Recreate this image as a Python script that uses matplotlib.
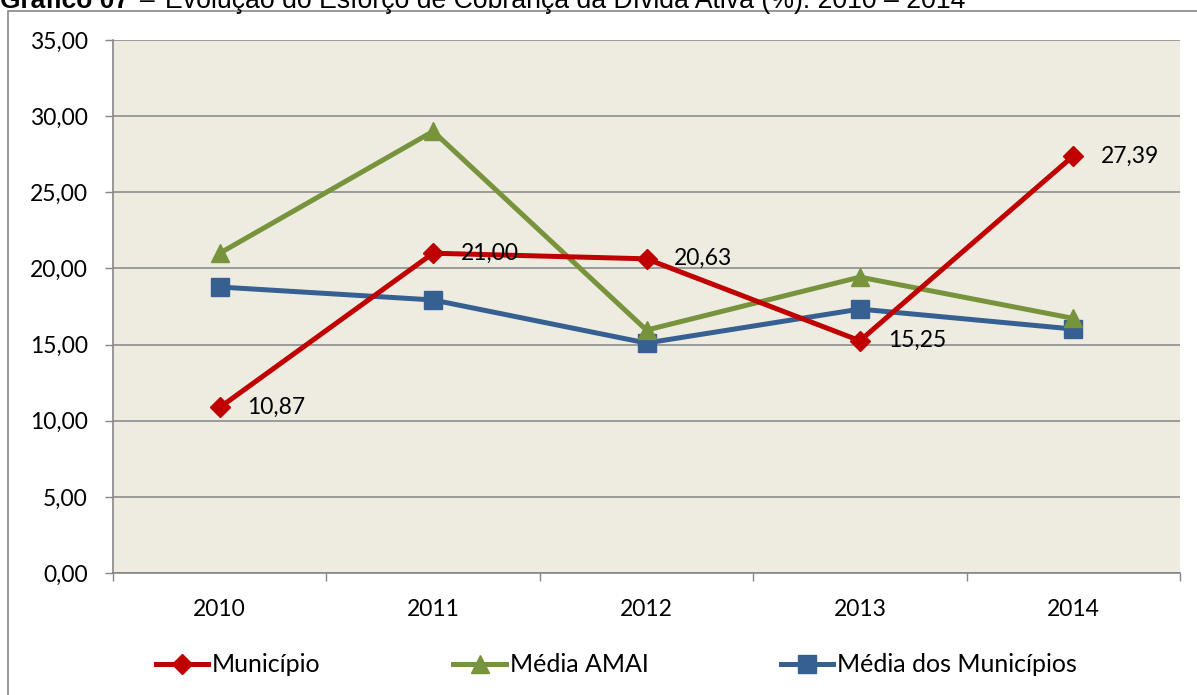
import matplotlib
matplotlib.use("Agg")
import matplotlib.pyplot as plt
from matplotlib.patches import Rectangle

years = ["2010", "2011", "2012", "2013", "2014"]
municipio = [10.87, 21.00, 20.63, 15.25, 27.39]
media_amai = [21.0, 29.0, 15.95, 19.43, 16.72]
media_municipios = [18.78, 17.93, 15.1, 17.33, 16.02]
yticks = [0, 5, 10, 15, 20, 25, 30, 35]

plt.rcParams['font.family'] = ['Lato', 'DejaVu Sans']

W, H = 1197, 695
fig = plt.figure(figsize=(W / 100, H / 100), dpi=100)
fig.patch.set_facecolor('white')

# outer chart border
fig.patches.append(Rectangle((8 / W, -0.01), 1.1, 1 - 11 / H + 0.01, transform=fig.transFigure,
                             fill=False, edgecolor='#868686', linewidth=1.2))

ax = fig.add_axes([113 / W, 1 - 573 / H, (1180 - 113) / W, (573 - 40) / H])
ax.set_facecolor('#EEECE1')

x = list(range(len(years)))
ax.plot(x, municipio, color='#C00000', lw=3.6, marker='D', ms=10.5, label='Município', zorder=5)
ax.plot(x, media_amai, color='#77933C', lw=3.6, marker='^', ms=13.5, label='Média AMAI', zorder=4)
ax.plot(x, media_municipios, color='#376092', lw=3.6, marker='s', ms=12.5, label='Média dos Municípios', zorder=3)

for xi, v in zip(x, municipio):
    ax.annotate(f"{v:.2f}".replace('.', ','), (xi, v), xytext=(20, 0), textcoords='offset points',
                ha='left', va='center', fontsize=16.5, color='black', zorder=6)

ax.set_xlim(-0.5, 4.5)
ax.set_ylim(0, 35)
ax.set_yticks(yticks)
ax.set_yticklabels([f"{t:.2f}".replace('.', ',') for t in yticks], fontsize=16.5)
ax.set_xticks(x)
ax.set_xticklabels(years, fontsize=16.5)
ax.set_xticks([i - 0.5 for i in range(len(years) + 1)], minor=True)
ax.tick_params(axis='x', which='major', length=0, pad=19)
ax.tick_params(axis='x', which='minor', length=6, color='#868686', width=1)
ax.tick_params(axis='y', length=6, color='#868686', width=1, pad=12)
ax.grid(axis='y', color='#8C8C8C', lw=1.2, zorder=0)
ax.set_axisbelow(True)
for s in ['top', 'right']:
    ax.spines[s].set_visible(False)
for s in ['left', 'bottom']:
    ax.spines[s].set_color('#868686')
    ax.spines[s].set_linewidth(1.2)

fig.legend(loc='center', bbox_to_anchor=(0.515, 1 - 665 / H), ncol=3, frameon=False,
           fontsize=18, handlelength=2.1, handletextpad=0.15, columnspacing=5.3)

fig.text(0.0, 1 - 8 / H, "Gráfico 07", fontsize=19, fontweight='bold', family='Liberation Sans',
         ha='left', va='baseline')
fig.text(140 / W, 1 - 8 / H, "–", fontsize=19, family='Liberation Sans', ha='left', va='baseline')
fig.text(165 / W, 1 - 8 / H, "Evolução do Esforço de Cobrança da Dívida Ativa (%): 2010 – 2014",
         fontsize=19.2, family='Liberation Sans', ha='left', va='baseline')

fig.savefig('out.png', dpi=100, facecolor='white')
